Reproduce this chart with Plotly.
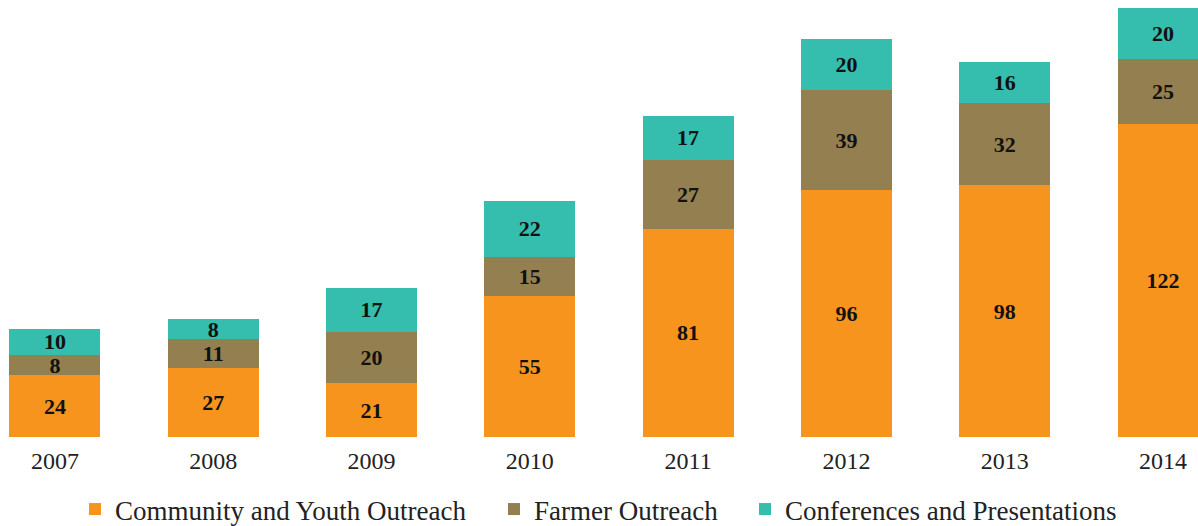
import plotly.graph_objects as go

years = ["2007", "2008", "2009", "2010", "2011", "2012", "2013", "2014"]
community = [24, 27, 21, 55, 81, 96, 98, 122]
farmer = [8, 11, 20, 15, 27, 39, 32, 25]
conferences = [10, 8, 17, 22, 17, 20, 16, 20]

series_names = ["Community and Youth Outreach", "Farmer Outreach", "Conferences and Presentations"]
series_values = [community, farmer, conferences]
series_colors = ["#F7941E", "#937F4F", "#35BDAD"]
legend_ids = ["legend", "legend2", "legend3"]
legend_x = [75 / 1198, 494 / 1198, 745 / 1198]

SERIF = "Liberation Serif"

xpos = list(range(len(years)))
fig = go.Figure()
for name, vals, color, lid in zip(series_names, series_values, series_colors, legend_ids):
    fig.add_trace(go.Bar(
        x=xpos, y=vals, name=name, legend=lid,
        marker=dict(color=color, line=dict(width=0)),
        width=0.575,
        text=[str(v) for v in vals],
        textposition="inside",
        insidetextanchor="middle",
        textangle=0,
        constraintext="none",
        textfont=dict(family=SERIF, size=22, color="#111111", weight="bold"),
    ))

legend_common = dict(
    orientation="h", xref="container", yref="container",
    y=(526 - 509.5) / 526, yanchor="middle", xanchor="left",
    font=dict(family=SERIF, size=27, color="#222222"),
    bgcolor="rgba(0,0,0,0)",
)

fig.update_layout(
    barmode="stack",
    width=1198, height=526,
    margin=dict(l=0, r=0, t=0, b=89, autoexpand=False),
    paper_bgcolor="white", plot_bgcolor="white",
    uniformtext=dict(minsize=22, mode="show"),
    showlegend=True,
    legend=dict(x=legend_x[0], **legend_common),
    legend2=dict(x=legend_x[1], **legend_common),
    legend3=dict(x=legend_x[2], **legend_common),
    xaxis=dict(
        range=[-0.347, 7.221], tickmode="array", tickvals=xpos, ticktext=years,
        showgrid=False, zeroline=False, showline=False,
        ticks="outside", ticklen=2, tickcolor="white",
        tickfont=dict(family=SERIF, size=24, color="#222222"),
    ),
    yaxis=dict(range=[0, 170.1], visible=False, showgrid=False),
)

fig.write_html("out.html", config={"displayModeBar": False},
               post_script="document.body.style.margin='0';")
